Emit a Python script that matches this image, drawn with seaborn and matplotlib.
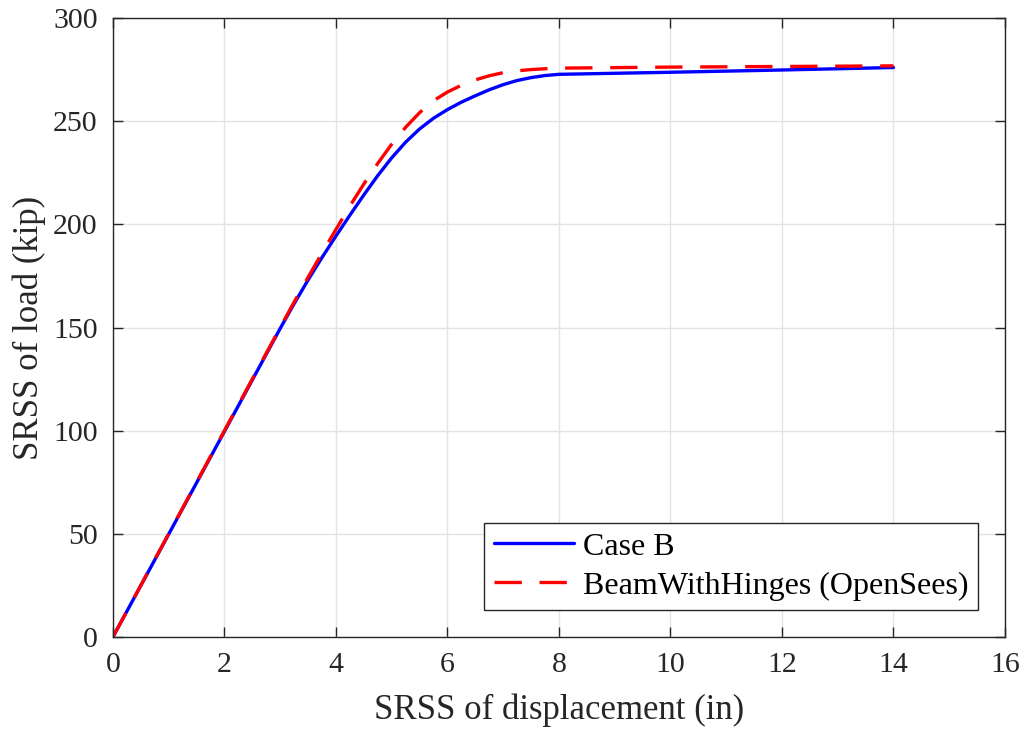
import numpy as np
import pandas as pd
import matplotlib
matplotlib.use("Agg")
import matplotlib.pyplot as plt
import seaborn as sns

# Data
case_b_x = [0, 1, 2, 3, 3.25, 3.5, 3.75, 4, 4.25, 4.5, 4.75, 5, 5.25, 5.5, 5.75, 6,
            6.25, 6.5, 6.75, 7, 7.25, 7.5, 7.75, 8, 10, 12, 14]
case_b_y = [0, 49.8, 99.6, 149.5, 161.5, 173, 183.9, 194.3, 204.4, 214.2, 223.6, 232.2,
            239.8, 246.2, 251.4, 255.6, 259.2, 262.3, 265.2, 267.7, 269.7, 271.1,
            272.1, 272.7, 273.7, 274.8, 276]
bwh_x = [0, 1, 2, 3, 3.25, 3.5, 3.75, 4, 4.25, 4.5, 4.75, 5, 5.25, 5.5, 5.75, 6,
         6.25, 6.5, 6.75, 7, 7.25, 7.5, 7.75, 8, 10, 12, 14]
bwh_y = [0, 50, 100, 150, 162.3, 174.3, 186, 197.5, 208.8, 219.5, 229.5, 238.8,
         247, 254.1, 259.9, 264.1, 267.4, 270, 272, 273.5, 274.4, 275,
         275.4, 275.7, 276.2, 276.5, 276.8]

x_ticks = [0, 2, 4, 6, 8, 10, 12, 14, 16]
y_ticks = [0, 50, 100, 150, 200, 250, 300]

sns.set_style("whitegrid")
plt.rcParams['font.family'] = ['Liberation Serif', 'DejaVu Serif']
plt.rcParams['mathtext.fontset'] = 'stix'

fig = plt.figure(figsize=(10.26, 7.34), dpi=100)
ax = fig.add_axes([0.110, 0.132, 0.8695, 0.8435])

df_b = pd.DataFrame({"x": case_b_x, "y": case_b_y})
df_r = pd.DataFrame({"x": bwh_x, "y": bwh_y})

sns.lineplot(data=df_b, x="x", y="y", ax=ax, color="#0000ff", lw=2.4,
             label="Case B", sort=False)
sns.lineplot(data=df_r, x="x", y="y", ax=ax, color="#ff0000", lw=2.4,
             label="BeamWithHinges (OpenSees)", sort=False)
ax.lines[1].set_dashes((8.2, 5.3))
for ln in ax.lines:
    ln.set_solid_joinstyle("round")
    ln.set_dash_joinstyle("round")

ax.set_xlim(0, 16)
ax.set_ylim(0, 300)
ax.set_xticks(x_ticks)
ax.set_yticks(y_ticks)
ax.set_xlabel("SRSS of displacement (in)", fontsize=25, color="#262626", labelpad=11)
ax.set_ylabel("SRSS of load (kip)", fontsize=25, color="#262626", labelpad=5)

ax.grid(True, color="#e3e3e3", lw=1.0)
for s in ax.spines.values():
    s.set_visible(True)
    s.set_color("#262626")
    s.set_linewidth(1.0)
ax.tick_params(direction="in", length=7, width=1.0, colors="#262626",
               labelsize=21.5, top=True, right=True, bottom=True, left=True,
               labelcolor="#262626")
ax.tick_params(axis="x", pad=11)
ax.tick_params(axis="y", pad=11)

leg = ax.legend(loc="lower right", bbox_to_anchor=(0.970, 0.0436), fontsize=23,
                frameon=True, fancybox=False, framealpha=1, edgecolor="#262626",
                borderpad=0.3, handlelength=2.5, handletextpad=0.3, labelspacing=0.3,
                borderaxespad=0)
leg.get_frame().set_linewidth(1.0)
for t in leg.get_texts():
    t.set_color("#000000")

fig.savefig("out.png", dpi=100)
